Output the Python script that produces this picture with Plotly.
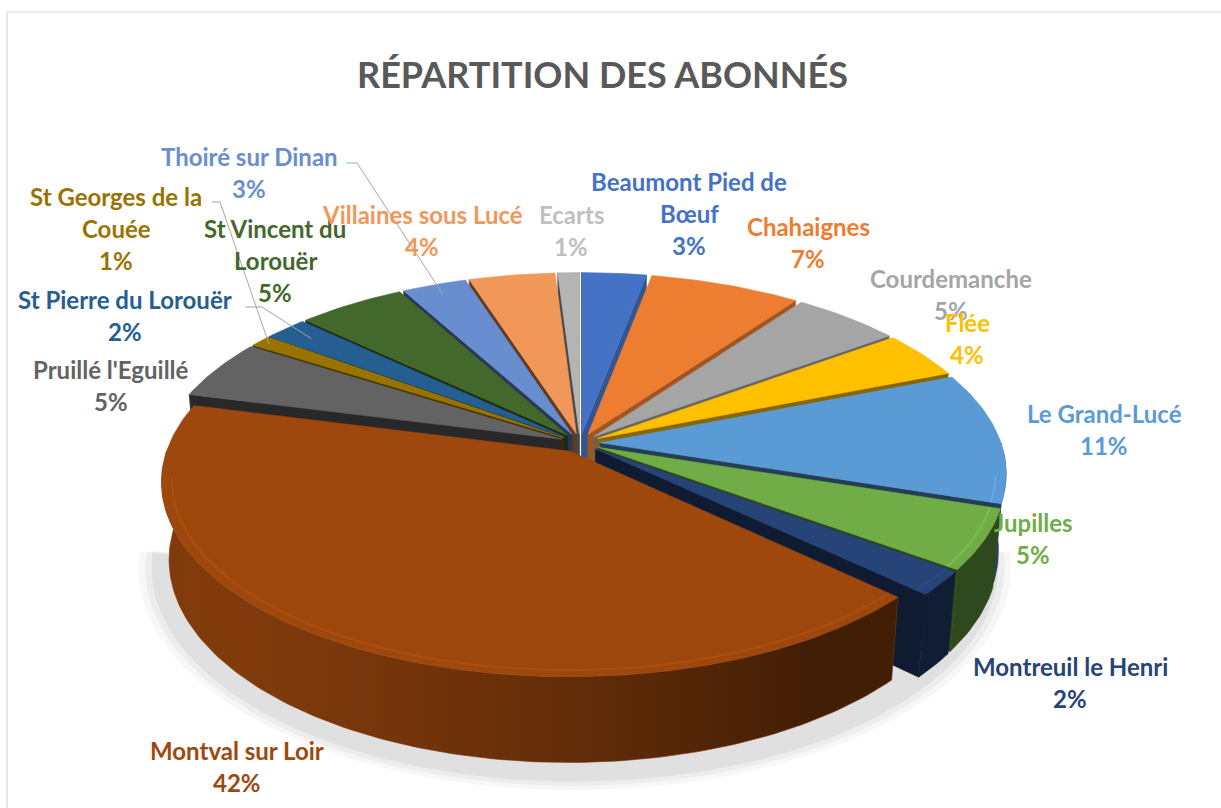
import math
import numpy as np
import plotly.graph_objects as go

# ---------------- data ----------------
labels = ["Beaumont Pied de Bœuf", "Chahaignes", "Courdemanche", "Flée", "Le Grand-Lucé",
          "Jupilles", "Montreuil le Henri", "Montval sur Loir", "Pruillé l'Eguillé",
          "St Georges de la Couée", "St Pierre du Lorouër", "St Vincent du Lorouër",
          "Thoiré sur Dinan", "Villaines sous Lucé", "Ecarts"]
values = [3, 7, 5, 4, 11, 5, 2, 42, 5, 1, 2, 5, 3, 4, 1]
colors = ["#4472C4", "#ED7D31", "#A5A5A5", "#FFC000", "#5B9BD5", "#70AD47", "#264478",
          "#9E480E", "#636363", "#997300", "#255E91", "#43682B", "#698ED0", "#F1975A", "#B4B4B4"]
label_lines = [["Beaumont Pied de", "Bœuf"], ["Chahaignes"], ["Courdemanche"], ["Flée"],
               ["Le Grand-Lucé"], ["Jupilles"], ["Montreuil le Henri"], ["Montval sur Loir"],
               ["Pruillé l'Eguillé"], ["St Georges de la", "Couée"], ["St Pierre du Lorouër"],
               ["St Vincent du", "Lorouër"], ["Thoiré sur Dinan"], ["Villaines sous Lucé"], ["Ecarts"]]
title = "RÉPARTITION DES ABONNÉS"

# ---------------- layout / style (pixels) ----------------
W, H = 1221, 808
CX, CY, S = 580.0, 443.0, 401.0       # pie centre and radius on screen
ALPHA = math.radians(28)               # tilt
LDIST = 5.8                            # perspective distance (in radii)
EXPLODE = 0.05                         # explosion (in radii)
DEPTH = 0.22                           # thickness (in radii)
FONT = "Lato"
LABEL_SIZE = 24
LINE_GAP = 32
label_pos = [(689, 181), (808, 226), (951, 278), (967, 322), (1104, 413), (1033, 522),
             (1070, 666), (237, 750), (111, 369), (116, 196), (125, 299), (275, 228),
             (249, 156), (422, 214), (571, 214)]
label_colors = colors[:-1] + ["#BFBFBF"]
# leader lines: label-side anchor points (pixels) for labels placed away from their slice
leaders = {12: [(346, 163), (357, 163)], 9: [(212, 202), (220, 202)], 10: [(245, 307), (262, 307)]}
leader_r = {12: 0.93, 9: 0.97, 10: 0.9}

cosA, sinA = math.cos(ALPHA), math.sin(ALPHA)
CAM = np.array([0.0, -LDIST * cosA, LDIST * sinA])


def proj(X, Y, Z):
    X, Y, Z = np.asarray(X, float), np.asarray(Y, float), np.asarray(Z, float)
    dep = LDIST + Y * cosA - Z * sinA
    up = Y * sinA + Z * cosA
    return CX + S * X * LDIST / dep, CY - S * up * LDIST / dep, dep


def shade(hexc, f):
    h = hexc.lstrip("#")
    r, g, b = (int(h[i:i + 2], 16) for i in (0, 2, 4))
    r, g, b = (max(0, min(255, int(round(c * f)))) for c in (r, g, b))
    return f"rgb({r},{g},{b})"


def wall_factor(phi):
    d = -0.862 * math.sin(phi) - 0.507 * math.cos(phi)
    return 0.42 + 0.40 * max(0.0, d)


total = sum(values)
fr = np.cumsum([0] + values) / total
starts = fr[:-1] * 2 * math.pi
ends = fr[1:] * 2 * math.pi

side_faces = []
top_faces = []
rims = []
for i in range(len(values)):
    a, b = starts[i], ends[i]
    m = 0.5 * (a + b)
    ex, ey = EXPLODE * math.sin(m), EXPLODE * math.cos(m)
    n = max(3, int(math.degrees(b - a)))
    phis = np.linspace(a, b, n + 1)
    # top face
    X = np.concatenate([[ex], np.sin(phis) + ex, [ex]])
    Y = np.concatenate([[ey], np.cos(phis) + ey, [ey]])
    sx, sy, _ = proj(X, Y, np.zeros_like(X))
    top_faces.append(dict(x=sx, y=sy, color=colors[i]))
    # outer wall (front half)
    w0, w1 = max(a, math.pi / 2), min(b, 1.5 * math.pi)
    if w1 > w0:
        k = max(3, int(math.degrees(w1 - w0)))
        ph = np.linspace(w0, w1, k + 1)
        Xt, Yt = np.sin(ph) + ex, np.cos(ph) + ey
        tx, ty, td = proj(Xt, Yt, np.zeros_like(Xt))
        bx, by, bd = proj(Xt, Yt, np.full_like(Xt, -DEPTH))
        xs = np.concatenate([tx, bx[::-1], tx[:1]])
        ys = np.concatenate([ty, by[::-1], ty[:1]])
        xmin, xmax = xs.min(), xs.max()
        stops = []
        for p, xv in zip(ph, tx):
            stops.append([float((xv - xmin) / (xmax - xmin)), shade(colors[i], wall_factor(p))])
        stops.sort(key=lambda s: s[0])
        stops = [[0.0, stops[0][1]]] + stops + [[1.0, stops[-1][1]]]
        clean = []
        for s_ in stops:
            if clean and s_[0] <= clean[-1][0]:
                continue
            clean.append(s_)
        clean[-1][0] = 1.0
        key = float(np.mean(np.concatenate([td, bd])))
        side_faces.append(dict(x=xs, y=ys, color=shade(colors[i], wall_factor(m)), grad=clean, key=key))
        # soft highlight along the bevelled front rim of the top face
        r0, r1 = max(a, math.radians(100)), min(b, math.radians(262))
        if r1 > r0:
            ph2 = np.linspace(r0, r1, max(3, int(math.degrees(r1 - r0))) + 1)
            hx, hy, _ = proj(0.975 * np.sin(ph2) + ex, 0.975 * np.cos(ph2) + ey, np.zeros_like(ph2))
            rims.append(dict(x=hx, y=hy, color=shade(colors[i], 1.18)))
    # radial faces
    for th, nrm in ((a, (-math.cos(a), math.sin(a))), (b, (math.cos(b), -math.sin(b)))):
        pm = np.array([0.5 * math.sin(th) + ex, 0.5 * math.cos(th) + ey, -DEPTH / 2])
        v = CAM - pm
        if nrm[0] * v[0] + nrm[1] * v[1] <= 0:
            continue
        Xq = np.array([ex, math.sin(th) + ex, math.sin(th) + ex, ex, ex])
        Yq = np.array([ey, math.cos(th) + ey, math.cos(th) + ey, ey, ey])
        Zq = np.array([0, 0, -DEPTH, -DEPTH, 0])
        qx, qy, qd = proj(Xq, Yq, Zq)
        f = 0.40 + 0.35 * max(0.0, nrm[0])
        side_faces.append(dict(x=qx, y=qy, color=shade(colors[i], f), grad=None,
                               key=float(np.mean(qd[:4]))))

fig = go.Figure()

# soft shadow under the front of the pie
for rr, alpha_ in [(1.085, 0.03), (1.07, 0.04), (1.055, 0.05)]:
    ph = np.linspace(math.radians(95), math.radians(265), 120)
    sx, sy, _ = proj(rr * np.sin(ph) - 0.02, rr * np.cos(ph) - 0.04, np.full_like(ph, -DEPTH))
    fig.add_trace(go.Scatter(x=np.concatenate([sx, [CX]]) + 3, y=np.concatenate([sy, [CY + 150]]) + 5,
                             mode="lines", fill="toself",
                             fillcolor=f"rgba(0,0,0,{alpha_})", line=dict(width=0),
                             hoverinfo="skip", showlegend=False))

for fc in sorted(side_faces, key=lambda d: -d["key"]):
    kw = {}
    if fc["grad"] is not None:
        kw["fillgradient"] = dict(type="horizontal", colorscale=fc["grad"])
    fig.add_trace(go.Scatter(x=fc["x"], y=fc["y"], mode="lines", fill="toself",
                             fillcolor=fc["color"], line=dict(width=0.6, color=fc["color"]),
                             hoverinfo="skip", showlegend=False, **kw))

for i, tf in enumerate(top_faces):
    fig.add_trace(go.Scatter(x=tf["x"], y=tf["y"], mode="lines", fill="toself",
                             fillcolor=tf["color"], line=dict(width=0.6, color=tf["color"]),
                             name=labels[i], hoverinfo="name", showlegend=False))

for rm in rims:
    fig.add_trace(go.Scatter(x=rm["x"], y=rm["y"], mode="lines",
                             line=dict(width=2, color=rm["color"], shape="spline"),
                             opacity=0.55, hoverinfo="skip", showlegend=False))

# leader lines
for i, pts in leaders.items():
    m = 0.5 * (starts[i] + ends[i])
    r = leader_r[i]
    ex, ey = EXPLODE * math.sin(m), EXPLODE * math.cos(m)
    px, py, _ = proj(r * math.sin(m) + ex, r * math.cos(m) + ey, 0.0)
    xs = [p[0] for p in pts] + [float(px)]
    ys = [p[1] for p in pts] + [float(py)]
    fig.add_trace(go.Scatter(x=xs, y=ys, mode="lines", line=dict(color="#A6A6A6", width=1),
                             hoverinfo="skip", showlegend=False))

# data labels
ann = []
for i, lines in enumerate(label_lines):
    pct = f"{round(values[i] / total * 100)}%"
    cx, y0 = label_pos[i]
    for j, t in enumerate(lines + [pct]):
        ann.append(dict(x=cx, y=y0 + j * LINE_GAP, text=f"<b>{t}</b>", showarrow=False,
                        xanchor="center", yanchor="middle",
                        font=dict(family=FONT, size=LABEL_SIZE, color=label_colors[i])))
ann.append(dict(x=602, y=74, text=f"<b>{title}</b>", showarrow=False, xanchor="center",
                yanchor="middle", font=dict(family=FONT, size=36, color="#595959")))

fig.update_layout(
    width=W, height=H, margin=dict(l=0, r=0, t=0, b=0),
    paper_bgcolor="white", plot_bgcolor="white",
    xaxis=dict(range=[0, W], visible=False, fixedrange=True),
    yaxis=dict(range=[H, 0], visible=False, fixedrange=True),
    annotations=ann,
    shapes=[dict(type="rect", xref="x", yref="y", x0=7, y0=12, x1=W + 20, y1=H + 20,
                 line=dict(color="#D9D9D9", width=1.2), fillcolor="rgba(0,0,0,0)", layer="below")],
)

fig.write_html("out.html", config={"displayModeBar": False},
               post_script="document.body.style.margin='0';")
